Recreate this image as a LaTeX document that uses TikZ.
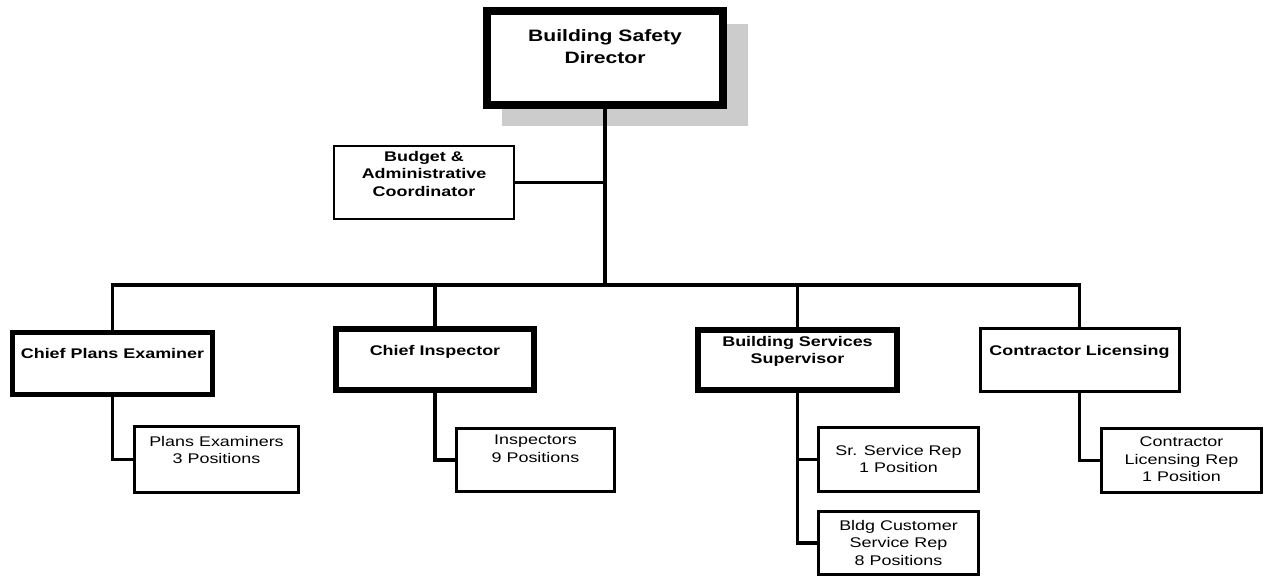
\documentclass[tikz,border=0pt]{standalone}
\usepackage{fontspec}
\setmainfont{Liberation Sans}
\newfontfamily\widefont[FakeStretch=1.28]{Liberation Sans}
\usepackage{tikz}
\usetikzlibrary{positioning}

\begin{document}
\begin{tikzpicture}[x=1pt, y=-1pt,
    box/.style={draw, fill=white, inner sep=0pt, outer sep=0pt, line width=3pt},
    head/.style={font=\widefont\bfseries\fontsize{14}{17.5}\selectfont, align=center, inner sep=0pt},
    post/.style={font=\widefont\fontsize{14}{17.5}\selectfont, align=center, inner sep=0pt},
    link/.style={line width=3.5pt}]
  \useasboundingbox (0, 0) rectangle (1271, 577);
  % grey shadow of the director box
  \fill[black!20] (502, 24) rectangle (748, 126);

  \node[box, line width=8pt, minimum width=236pt, minimum height=94pt] (dir) at (605, 58) {};
  \node[box, line width=2pt, minimum width=180pt, minimum height=73pt] (budget) at (424, 182.5) {};

  \node[box, line width=5pt, minimum width=200pt, minimum height=62pt] (cpe) at (112.5, 363.5) {};
  \node[box, line width=6pt, minimum width=198pt, minimum height=61pt] (ci) at (435, 359.5) {};
  \node[box, line width=6pt, minimum width=199pt, minimum height=60pt] (bss) at (797.5, 360) {};
  \node[box, minimum width=199pt, minimum height=63pt] (cl) at (1079.5, 359.5) {};

  \node[box, minimum width=164pt, minimum height=66pt] (pe) at (216.5, 459.5) {};
  \node[box, minimum width=158pt, minimum height=63pt] (insp) at (535.5, 460) {};
  \node[box, minimum width=160pt, minimum height=64pt] (sr) at (898.5, 459.5) {};
  \node[box, minimum width=160pt, minimum height=63pt] (bcsr) at (898.5, 543) {};
  \node[box, minimum width=160pt, minimum height=64pt] (clr) at (1181.5, 460.5) {};

  % texts
  \node[head, font=\widefont\bfseries\fontsize{16.5}{22}\selectfont, below=18pt of dir.north] (dir-t) {Building Safety\\Director};
  \node[head, below=5pt of budget.north] (budget-t) {Budget \&\\Administrative\\Coordinator};
  \node[head, below=15.5pt of cpe.north] (cpe-t) {Chief Plans Examiner};
  \node[head, below=16pt of ci.north] (ci-t) {Chief Inspector};
  \node[head, below=6pt of bss.north] (bss-t) {Building Services\\Supervisor};
  \node[head, below=17pt of cl.north] (cl-t) {Contractor Licensing};
  \node[post, below=9.5pt of pe.north] (pe-t) {Plans Examiners\\3 Positions};
  \node[post, below=6.5pt of insp.north] (insp-t) {Inspectors\\9 Positions};
  \node[post, below=17.5pt of sr.north] (sr-t) {Sr. Service Rep\\1 Position};
  \node[post, below=8.5pt of bcsr.north] (bcsr-t) {Bldg Customer\\Service Rep\\8 Positions};
  \node[post, below=8.5pt of clr.north] (clr-t) {Contractor\\Licensing Rep\\1 Position};

  % lines
  \coordinate (bus) at (605, 285);
  \draw[link] (dir.south) -- (bus);
  \draw[link] (budget.east) -- (budget.east -| bus);
  \draw[link] (cpe.north) |- (bus) -| (cl.north);
  \draw[link] (ci.north) -- (ci.north |- bus);
  \draw[link] (bss.north) -- (bss.north |- bus);
  \draw[link] (cpe.south) |- (pe.west);
  \draw[link] (ci.south) |- (insp.west);
  \draw[link] (bss.south) |- (sr.west);
  \draw[link] (bss.south) |- (bcsr.west);
  \draw[link] (cl.south) |- (clr.west);
\end{tikzpicture}
\end{document}
